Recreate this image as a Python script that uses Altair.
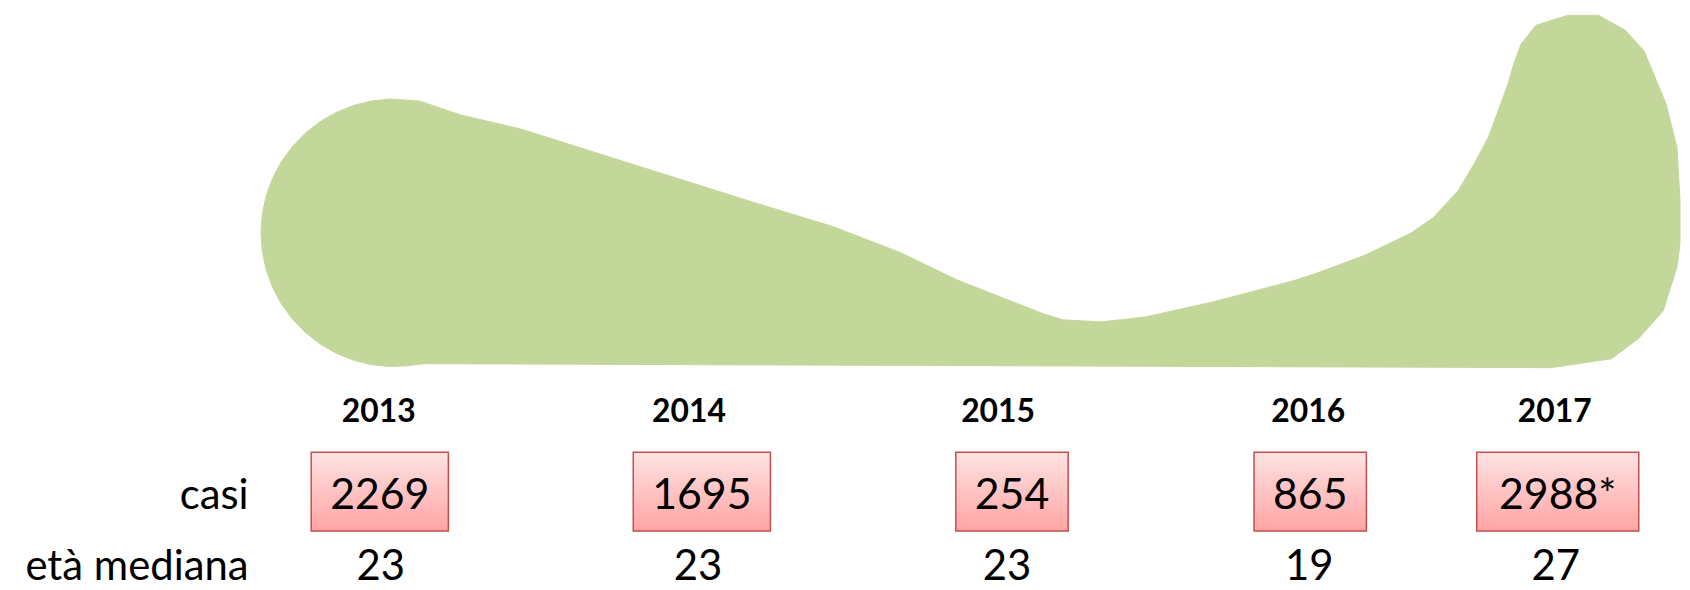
import altair as alt
import pandas as pd

# ---------------- data ----------------
years = ["2013", "2014", "2015", "2016", "2017"]
casi = ["2269", "1695", "254", "865", "2988*"]
eta_mediana = ["23", "23", "23", "19", "27"]
row_labels = ["casi", "età mediana"]

# outline of the green shape (page pixel coordinates, clockwise)
shape_x = [262.5, 263.8, 267.7, 274.1, 282.9, 294.0, 307.0, 321.8, 338.0, 355.4, 373.6, 392.3,
           422, 463, 523, 752,
           837, 905, 963, 1050, 1070, 1108, 1152, 1220, 1300, 1322, 1373, 1419, 1442, 1467,
           1483, 1497, 1517, 1522, 1530, 1545, 1577, 1608, 1635, 1654, 1676, 1687, 1690,
           1690, 1687, 1673, 1648, 1621, 1560, 427, 410,
           392.3, 373.6, 355.4, 338.0, 321.8, 307.0, 294.0, 282.9, 274.1, 267.7, 263.8]
shape_y = [232.5, 213.8, 195.4, 177.8, 161.2, 146.0, 132.5, 121.0, 111.6, 104.6, 100.0, 98.1,
           100, 114, 128, 200,
           226, 252, 280, 314, 320, 322, 317, 302, 281, 274, 255, 233, 217, 190,
           163, 137, 83, 65, 43, 24, 14, 14, 29, 50, 103, 147, 200,
           243, 267, 311, 339, 359, 368, 364, 366,
           366.9, 365.0, 360.4, 353.4, 344.0, 332.5, 319.0, 303.8, 287.2, 269.6, 251.2]

# ---------------- layout / style ----------------
W, H = 1682, 582
OX, OY = 8, 8
year_x = [381, 693, 1004, 1316, 1564]
box_x = [382, 706, 1018, 1318, 1567]
med_x = [383, 702, 1013, 1317, 1565]
FONT = "Lato"
BOTTOM_BASE = 581

xs = alt.Scale(domain=[OX, OX + W], nice=False, zero=False)
ys = alt.Scale(domain=[OY, OY + H], nice=False, zero=False, reverse=True)

shape_df = pd.DataFrame({"px": shape_x, "py": shape_y, "k": list(range(len(shape_x)))})
shape = alt.Chart(shape_df).mark_line(
    fill="#C4D79B", stroke="#C4D79B", strokeWidth=1, interpolate="linear-closed"
).encode(
    x=alt.X("px:Q", scale=xs, axis=None),
    y=alt.Y("py:Q", scale=ys, axis=None),
    order=alt.Order("k:Q"),
)

box_df = pd.DataFrame({"year": years, "casi": casi, "cx": box_x})
box_df["half"] = box_df["casi"].str.len() * 12.5 + 19
box_df["x1"] = box_df["cx"] - box_df["half"]
box_df["x2"] = box_df["cx"] + box_df["half"]

box_top, box_bot = 453 - OY, 532 - OY

shadow = alt.Chart(box_df).mark_rect(color="#000000", opacity=0.22, xOffset=2, yOffset=3).encode(
    x=alt.X("x1:Q", scale=xs, axis=None), x2="x2:Q",
    y=alt.value(box_top), y2=alt.value(box_bot),
)
shadow2 = alt.Chart(box_df).mark_rect(color="#000000", opacity=0.10, xOffset=3, yOffset=5).encode(
    x=alt.X("x1:Q", scale=xs, axis=None), x2="x2:Q",
    y=alt.value(box_top), y2=alt.value(box_bot),
)

gradient = {
    "gradient": "linear", "x1": 0, "y1": 0, "x2": 0, "y2": 1,
    "stops": [{"offset": 0, "color": "#FFE3E3"}, {"offset": 1, "color": "#FFA4A4"}],
}
boxes = alt.Chart(box_df).mark_rect(fill=gradient, stroke="#C0504D", strokeWidth=1.5).encode(
    x=alt.X("x1:Q", scale=xs, axis=None), x2="x2:Q",
    y=alt.value(box_top), y2=alt.value(box_bot),
)

box_text = alt.Chart(box_df).mark_text(
    font=FONT, fontSize=43, baseline="alphabetic", align="center", color="black"
).encode(
    x=alt.X("cx:Q", scale=xs, axis=None), y=alt.value(510 - OY), text="casi:N"
)

year_df = pd.DataFrame({"year": years, "cx": year_x})
year_text = alt.Chart(year_df).mark_text(
    font=FONT, fontSize=32, fontWeight="bold", baseline="alphabetic", align="center", color="black"
).encode(
    x=alt.X("cx:Q", scale=xs, axis=None), y=alt.value(423 - OY), text="year:N"
)

med_df = pd.DataFrame({"eta": eta_mediana, "cx": med_x})
med_text = alt.Chart(med_df).mark_text(
    font=FONT, fontSize=42, baseline="alphabetic", align="center", color="black"
).encode(
    x=alt.X("cx:Q", scale=xs, axis=None), y=alt.value(BOTTOM_BASE - OY), text="eta:N"
)

row_df = pd.DataFrame({"label": row_labels, "rx": [250, 250], "ry": [510, BOTTOM_BASE]})
row_text = alt.Chart(row_df).mark_text(
    font=FONT, fontSize=42, baseline="alphabetic", align="right", color="black"
).encode(
    x=alt.X("rx:Q", scale=xs, axis=None),
    y=alt.Y("ry:Q", scale=ys, axis=None),
    text="label:N",
)

chart = alt.layer(
    shape, shadow2, shadow, boxes, box_text, year_text, med_text, row_text
).properties(
    width=W, height=H, padding=0,
    autosize=alt.AutoSizeParams(type="fit", contains="padding"),
).configure_view(stroke=None)

chart.save("out.html", embed_options={"renderer": "svg", "actions": False})
